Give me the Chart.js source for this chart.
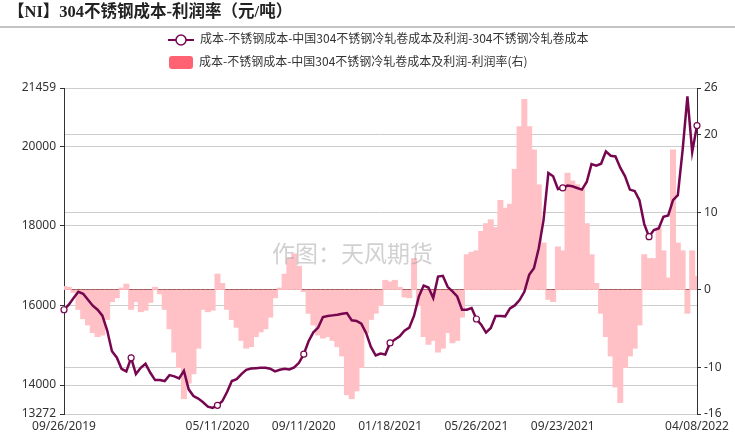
<!DOCTYPE html>
<html>
<head>
<meta charset="utf-8">
<script src="https://cdn.jsdelivr.net/npm/chart.js@4.4.0/dist/chart.umd.min.js"></script>
<style>
body{margin:0;background:#fff;}
#caja{position:relative;width:735px;height:436px;overflow:hidden;font-family:"Noto Sans CJK SC","Noto Sans",sans-serif;}
#Grafico1{position:absolute;left:0;top:0;}
.titulo{position:absolute;left:8px;top:1px;font-weight:bold;font-size:16.5px;font-family:"Liberation Serif","Noto Sans CJK SC",serif;color:#222;white-space:nowrap;line-height:22px;}
.raya{position:absolute;left:0;top:26px;width:735px;height:2px;background:#c4c4c4;}
.leyenda{position:absolute;left:168px;font-size:12px;color:#333;white-space:nowrap;line-height:16px;height:16px;}
.leyenda svg,.leyenda .caja-color{display:inline-block;vertical-align:middle;margin-right:6px;}
.caja-color{width:24px;height:13px;border-radius:3px;background:#ff6373;margin-left:1px;}
.marca-agua{position:absolute;left:272px;top:235px;font-size:23px;color:rgba(150,150,150,0.45);white-space:nowrap;pointer-events:none;}
</style>
</head>
<body>
<div id="caja">
    <canvas id="Grafico1" width="735" height="436"></canvas>
    <div class="titulo">【NI】304不锈钢成本-利润率（元/吨）</div>
    <div class="raya"></div>
    <div class="leyenda" style="top:30px;"><svg width="26" height="12"><line x1="0" y1="6" x2="26" y2="6" stroke="#76064f" stroke-width="2"/><circle cx="13" cy="6" r="5" fill="#fff" stroke="#76064f" stroke-width="1.5"/></svg>成本-不锈钢成本-中国304不锈钢冷轧卷成本及利润-304不锈钢冷轧卷成本</div>
    <div class="leyenda" style="top:53px;"><span class="caja-color"></span>成本-不锈钢成本-中国304不锈钢冷轧卷成本及利润-利润率(右)</div>
    <div class="marca-agua">作图：天风期货</div>
</div>
<script>
// 304冷轧卷成本 (元/吨), muestreo semanal
const costo = [
    15890,16016,16183,16341,16291,16141,15991,15891,15741,15374,
    14849,14691,14408,14341,14683,14274,14433,14533,14308,14124,
    14124,14099,14249,14216,14166,14358,13891,13724,13658,13566,
    13458,13424,13491,13591,13824,14099,14149,14274,14383,14416,
    14424,14433,14433,14408,14341,14383,14408,14391,14441,14558,
    14774,15099,15324,15441,15708,15733,15749,15766,15791,15808,
    15624,15608,15541,15308,14958,14741,14791,14766,15058,15141,
    15224,15366,15441,15741,16224,16499,16449,16183,16724,16741,
    16466,16349,16224,15891,15891,15933,15658,15516,15316,15433,
    15733,15733,15724,15924,15999,16133,16341,16766,16933,17433,
    18141,19324,19241,18924,18949,19008,18991,18949,18908,19099,
    19549,19508,19558,19866,19758,19741,19458,19241,18908,18874,
    18641,18041,17724,17891,17933,18224,18258,18641,18766,19900,
    21250,19850,20516
];
// 利润率 (%)
const margen = [
    0.4,0.3,-0.3,-2.5,-3.7,-4.5,-5.5,-6.0,-5.8,-3.8,
    -1.5,-1.0,0.2,0.7,-2.5,-1.5,-2.8,-2.6,-1.6,0.3,
    -0.5,-2.5,-5.0,-8.0,-10.0,-14.0,-12.0,-10.8,-7.5,-2.5,
    -2.8,-2.6,2.0,0.8,-2.5,-3.8,-4.8,-6.5,-7.5,-7.3,
    -6.0,-5.4,-5.0,-3.5,-1.0,0.2,2.0,4.0,4.6,3.0,
    -0.2,-3.0,-4.5,-5.8,-6.2,-6.0,-6.5,-7.3,-8.5,-13.5,
    -14.0,-13.0,-10.0,-5.5,-3.8,-3.0,-2.0,1.2,1.0,1.2,
    0.3,-0.9,-1.0,4.0,-2.0,-6.0,-7.0,-6.5,-8.0,-7.5,
    -5.5,-6.8,-6.5,-3.5,4.5,4.8,5.0,7.5,8.5,9.0,
    8.0,11.5,10.5,11.0,15.5,21.0,24.5,21.0,18.0,13.5,
    6.0,-1.2,-1.5,5.5,5.0,15.0,14.0,13.5,13.0,8.5,
    4.5,0.8,-3.0,-6.0,-8.5,-12.5,-14.5,-10.0,-8.5,-7.5,
    -4.5,4.5,4.0,4.0,8.0,5.0,1.5,18.0,6.0,5.0,
    -3.0,5.0,1.7
];
const indicesTicks = [0, 32, 50, 68, 86, 104, 132];
const textosTicks = ['09/26/2019','05/11/2020','09/11/2020','01/18/2021','05/26/2021','09/23/2021','04/08/2022'];
const ticksIzq = [13272, 14000, 16000, 18000, 20000, 21459];
const ticksDer = [-16, -10, 0, 10, 20, 26];
const marcas = [0, 14, 32, 50, 68, 86, 104, 122, 132];

let fechas = [];
for (let i = 0; i < costo.length; i++) {
    let d = new Date(2019, 8, 26 + i*7);
    fechas.push(('0'+(d.getMonth()+1)).slice(-2)+'/'+('0'+d.getDate()).slice(-2)+'/'+d.getFullYear());
}

const colorLinea = '#76064f';
const fuente = {family:'"Noto Sans", sans-serif', size:12};

let CanvasG1 = document.getElementById('Grafico1').getContext('2d');
let datos = {
    labels: fechas,
    datasets: [{
        type: 'line',
        label: '成本-不锈钢成本-中国304不锈钢冷轧卷成本及利润-304不锈钢冷轧卷成本',
        data: costo,
        yAxisID: 'y',
        borderColor: colorLinea,
        borderWidth: 2.5,
        tension: 0,
        pointRadius: costo.map((v,i) => marcas.includes(i) ? 3 : 0),
        pointBackgroundColor: '#fff',
        pointBorderColor: colorLinea,
        pointBorderWidth: 1.2,
        order: 0
    },{
        type: 'bar',
        label: '成本-不锈钢成本-中国304不锈钢冷轧卷成本及利润-利润率(右)',
        data: margen,
        yAxisID: 'y1',
        backgroundColor: '#ffc1c5',
        barPercentage: 1,
        categoryPercentage: 1,
        inflateAmount: 0.6,
        order: 1
    }]
}
let opciones = {
    responsive: false,
    animation: false,
    devicePixelRatio: 1,
    layout: {padding: {top: 88, left: 0, right: 0, bottom: 0}},
    plugins: {legend: {display: false}, tooltip: {enabled: false}},
    scales: {
        x: {
            offset: false,
            grid: {display: false, drawTicks: false},
            border: {display: true, color: '#ccc'},
            ticks: {
                autoSkip: false, maxRotation: 0, padding: 5, color: '#333', font: fuente,
                callback: function(v){ let k = indicesTicks.indexOf(v); return k >= 0 ? textosTicks[k] : ''; }
            },
            afterBuildTicks: s => { s.ticks = indicesTicks.map(v => ({value: v})); },
            afterFit: s => { s.height = 22; }
        },
        y: {
            position: 'left',
            min: 13272, max: 21459,
            afterBuildTicks: s => { s.ticks = ticksIzq.map(v => ({value: v})); },
            grid: {color: '#ccc', tickColor: '#333', tickLength: 4},
            border: {color: '#333'},
            ticks: {padding: 4, color: '#333', font: fuente, callback: v => String(v)},
            afterFit: s => { s.width = 64; }
        },
        y1: {
            position: 'right',
            min: -16, max: 26,
            afterBuildTicks: s => { s.ticks = ticksDer.map(v => ({value: v})); },
            grid: {
                color: ctx => (ctx.tick && ctx.tick.value === 0) ? '#7a3535' : '#ccc',
                tickColor: '#333', tickLength: 4
            },
            border: {color: '#333'},
            ticks: {padding: 3, color: '#333', font: fuente, callback: v => String(v)},
            afterFit: s => { s.width = 38; }
        }
    }
}
let G1 = new Chart(CanvasG1, {
    data: datos,
    options: opciones
})
</script>
</body>
</html>
